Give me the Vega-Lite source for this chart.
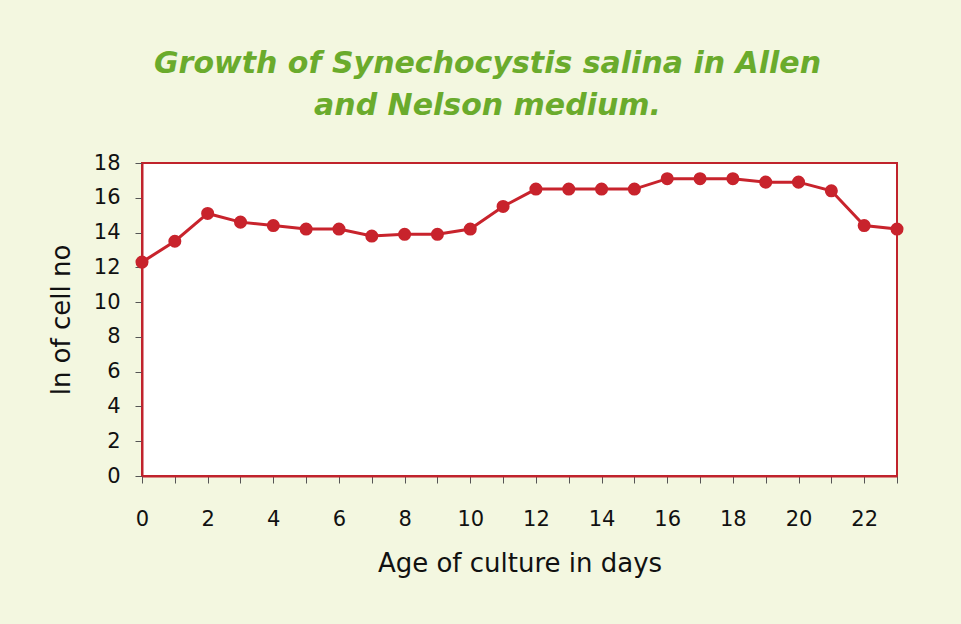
{
  "$schema": "https://vega.github.io/schema/vega-lite/v6.json",
  "autosize": {"type": "none"},
  "width": 755,
  "height": 313,
  "padding": {"left": 142, "top": 163, "right": 64, "bottom": 148},
  "background": "#f3f7e0",
  "config": {
    "font": "DejaVu Sans",
    "view": {"fill": "#ffffff", "stroke": "#c0232c", "strokeWidth": 2}
  },
  "title": {
    "text": ["Growth of Synechocystis salina in Allen", "and Nelson medium."],
    "font": "DejaVu Sans",
    "fontSize": 30,
    "fontWeight": "bold",
    "fontStyle": "italic",
    "color": "#6aab2c",
    "anchor": "middle",
    "dx": -32,
    "offset": 31,
    "lineHeight": 42
  },
  "data": {
    "values": [
      {"day": 0, "ln": 12.3},
      {"day": 1, "ln": 13.5},
      {"day": 2, "ln": 15.1},
      {"day": 3, "ln": 14.6},
      {"day": 4, "ln": 14.4},
      {"day": 5, "ln": 14.2},
      {"day": 6, "ln": 14.2},
      {"day": 7, "ln": 13.8},
      {"day": 8, "ln": 13.9},
      {"day": 9, "ln": 13.9},
      {"day": 10, "ln": 14.2},
      {"day": 11, "ln": 15.5},
      {"day": 12, "ln": 16.5},
      {"day": 13, "ln": 16.5},
      {"day": 14, "ln": 16.5},
      {"day": 15, "ln": 16.5},
      {"day": 16, "ln": 17.1},
      {"day": 17, "ln": 17.1},
      {"day": 18, "ln": 17.1},
      {"day": 19, "ln": 16.9},
      {"day": 20, "ln": 16.9},
      {"day": 21, "ln": 16.4},
      {"day": 22, "ln": 14.4},
      {"day": 23, "ln": 14.2}
    ]
  },
  "encoding": {
    "x": {
      "field": "day",
      "type": "quantitative",
      "scale": {"domain": [0, 23], "nice": false, "zero": false},
      "axis": {
        "title": "Age of culture in days",
        "values": [0,1,2,3,4,5,6,7,8,9,10,11,12,13,14,15,16,17,18,19,20,21,22,23],
        "labelExpr": "datum.value % 2 == 0 ? datum.label : ''",
        "grid": false,
        "domainColor": "#c0232c",
        "domainWidth": 2,
        "tickColor": "#555555",
        "tickSize": 7,
        "labelPadding": 25,
        "labelFontSize": 21,
        "labelColor": "#111111",
        "labelFlush": false,
        "titleFontSize": 26,
        "titleFontWeight": "normal",
        "titleColor": "#111111",
        "titlePadding": 21
      }
    },
    "y": {
      "field": "ln",
      "type": "quantitative",
      "scale": {"domain": [0, 18], "nice": false},
      "axis": {
        "title": "ln of cell no",
        "values": [0,2,4,6,8,10,12,14,16,18],
        "grid": false,
        "domainColor": "#c0232c",
        "domainWidth": 2,
        "tickColor": "#555555",
        "tickSize": 7,
        "labelPadding": 15,
        "labelFontSize": 21,
        "labelColor": "#111111",
        "labelFlush": false,
        "titleFontSize": 26,
        "titleFontWeight": "normal",
        "titleColor": "#111111",
        "titlePadding": 19
      }
    }
  },
  "layer": [
    {"mark": {"type": "line", "color": "#c8232c", "strokeWidth": 3}},
    {"mark": {"type": "point", "filled": true, "opacity": 1, "color": "#c8232c", "size": 170}}
  ]
}
